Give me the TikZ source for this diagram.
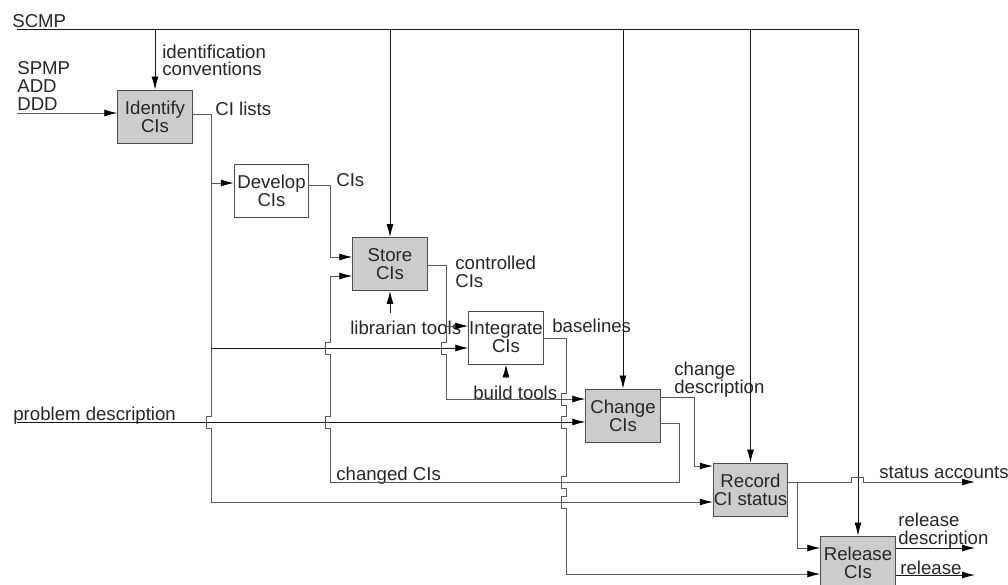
\documentclass[tikz,border=0pt]{standalone}
\usepackage{fontspec}
\setmainfont{Liberation Sans}
\usetikzlibrary{arrows.meta}
\begin{document}
\begin{tikzpicture}[x=0.02cm,y=-0.02cm,
  every node/.style={font=\fontsize{10.6}{10.2}\selectfont, text=black!85, inner sep=0pt},
  proc/.style={draw=black!70, line width=0.55pt, fill=gray!40, minimum width=1.49cm, minimum height=1.06cm, align=center},
  wproc/.style={proc, fill=white},
  ln/.style={draw=black!65, line width=0.5pt},
  dk/.style={draw=black!90, line width=0.5pt},
  tip/.style={-{Latex[length=2.6mm,width=1.4mm,black]}},
  lbl/.style={anchor=base west},
  mlbl/.style={anchor=north west, align=left}
]
\useasboundingbox (0,0) rectangle (1008,585);

% process boxes
\node[proc]  (ident)   at (155,116.5) {Identify\\CIs};
\node[wproc] (dev)     at (271.5,190.5) {Develop\\CIs};
\node[proc]  (store)   at (390,264) {Store\\CIs};
\node[wproc] (integ)   at (506,337.5) {Integrate\\CIs};
\node[proc]  (change)  at (623,415.5) {Change\\CIs};
\node[proc]  (record)  at (750.5,489.5) {Record\\CI status};
\node[proc]  (release) at (858,562.5) {Release\\CIs};

% free ends
\coordinate (scmpL) at (17,29);
\coordinate (inL) at (17,113);
\coordinate (pdL) at (17,422);
\coordinate (saEnd) at (975,482);
\coordinate (rdEnd) at (975,548);
\coordinate (rlEnd) at (975,575);
\coordinate (libS) at (390,313);
\coordinate (bldS) at (506,378);

% labels
\node[lbl] at (12,27) {SCMP};
\node[mlbl, font=\fontsize{10.6}{9.6}\selectfont] at (162,45) {identification\\conventions};
\node[mlbl] at (17,61) {SPMP\\ADD\\DDD};
\node[lbl] at (215,115) {CI lists};
\node[lbl] at (336,186) {CIs};
\node[mlbl] at (455,256) {controlled\\CIs};
\node[lbl] at (350,334) {librarian tools};
\node[lbl] at (552,332) {baselines};
\node[lbl] at (473,399) {build tools};
\node[mlbl] at (674,362) {change\\description};
\node[lbl] at (13,420) {problem description};
\node[lbl] at (336,480) {changed CIs};
\node[lbl] at (879,478) {status accounts};
\node[mlbl] at (898,513) {release\\description};
\node[lbl] at (900,574) {release};

% SCMP controls
\draw[dk,tip] (scmpL) -| (release.north);
\draw[dk,tip] (ident.north |- scmpL) -- (ident.north);
\draw[dk,tip] (store.north |- scmpL) -- (store.north);
\draw[dk,tip] (change.north |- scmpL) -- (change.north);
\draw[dk,tip] (record.north |- scmpL) -- (record.north);

% inputs
\draw[ln,tip] (inL) -- (ident.west |- inL);
\draw[dk,tip] (pdL) -- (change.west |- pdL);

% CI lists
\draw[ln,tip] (ident.east |- 0,114) -- (211,114) -- (211,416) -- (206,416) -- (206,428) -- (211,428) -- (211,502) -- (record.west |- 0,502);
\draw[ln,tip] (211,183) -- (dev.west |- 0,183);
\draw[dk,tip] (211,348) -- (integ.west |- 0,348);

% Develop output
\draw[ln,tip] (dev.east |- 0,185) -- (330,185) -- (330,257) -- (store.west |- 0,257);

% changed CIs
\draw[ln,tip] (change.east |- 0,423) -- (679,423) -- (679,482) -- (330,482) -- (330,428) -- (325,428) -- (325,416) -- (330,416) -- (330,354) -- (325,354) -- (325,342) -- (330,342) -- (330,276) -- (store.west |- 0,276);

% controlled CIs
\draw[ln,tip] (store.east |- 0,265) -- (446,265) -- (446,342) -- (441,342) -- (441,354) -- (446,354) -- (446,399) -- (change.west |- 0,399);
\draw[ln,tip] (446,326) -- (integ.west |- 0,326);

% baselines
\draw[ln,tip] (integ.east |- 0,338) -- (566,338) -- (566,393) -- (561,393) -- (561,405) -- (566,405) -- (566,416) -- (561,416) -- (561,428) -- (566,428) -- (566,476) -- (561,476) -- (561,488) -- (566,488) -- (566,496) -- (561,496) -- (561,508) -- (566,508) -- (566,574) -- (release.west |- 0,574);

% change description
\draw[ln,tip] (change.east |- 0,397) -- (694,397) -- (694,466) -- (record.west |- 0,466);

% record outputs
\draw[ln,tip] (record.east |- 0,482) -- (851,482) -- (851,477) -- (863,477) -- (863,482) -- (saEnd);
\draw[ln,tip] (797,482) -- (797,548) -- (release.west |- 0,548);

% release outputs
\draw[dk,tip] (release.east |- rdEnd) -- (rdEnd);
\draw[dk,tip] (release.east |- rlEnd) -- (rlEnd);

% mechanisms
\draw[dk,tip] (libS) -- (store.south);
\draw[dk,tip] (bldS) -- (integ.south);
\end{tikzpicture}
\end{document}
